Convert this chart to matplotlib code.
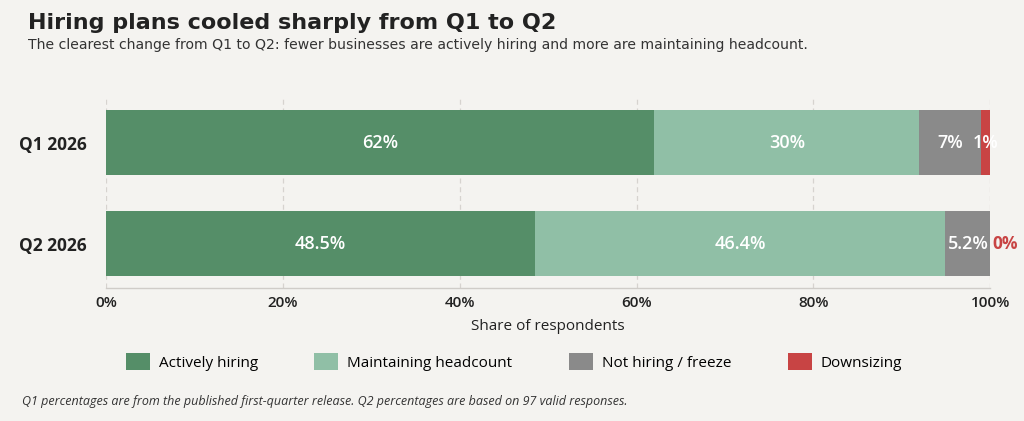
import matplotlib
matplotlib.use("Agg")
import matplotlib.pyplot as plt
from matplotlib.patches import Patch

# data
periods = ["Q1 2026", "Q2 2026"]
categories = ["Actively hiring", "Maintaining headcount", "Not hiring / freeze", "Downsizing"]
q1_values = [62, 30, 7, 1]
q2_values = [48.5, 46.4, 5.2, 0]
q1_labels = ["62%", "30%", "7%", "1%"]
q2_labels = ["48.5%", "46.4%", "5.2%", "0%"]
xticks = [0, 20, 40, 60, 80, 100]

colors = ["#558e68", "#90bfa6", "#8a8a8a", "#c84444"]
bg = "#f4f3f0"
ui_font = ["Open Sans", "Noto Sans", "DejaVu Sans"]

fig = plt.figure(figsize=(10.24, 4.21), dpi=100, facecolor=bg)
ax = fig.add_axes([0.1035, 0.316, 0.8635, 0.451])
ax.set_facecolor(bg)

values = [q1_values, q2_values]
labels = [q1_labels, q2_labels]
for row, (vals, labs) in enumerate(zip(values, labels)):
    left = 0
    for i, (v, lab) in enumerate(zip(vals, labs)):
        if v > 0:
            ax.barh(row, v, left=left, height=0.64, color=colors[i],
                    edgecolor="none", zorder=3)
            ax.text(left + v / 2, row, lab, ha="center", va="center",
                    color="white", fontsize=13, fontweight="semibold",
                    family=ui_font, zorder=4)
        else:
            # zero segment: put the label just past the end of the bar
            ax.text(left + 0.2, row, lab, ha="left", va="center",
                    color=colors[i], fontsize=12.5, fontweight="bold",
                    family=ui_font, zorder=4, clip_on=False)
        left += v

ax.set_xlim(0, 100)
ax.set_ylim(1.44, -0.44)
ax.set_yticks([0, 1])
ax.set_yticklabels(periods, fontsize=12.5, fontweight="bold", family=ui_font, color="#222222")
ax.set_xticks(xticks)
ax.set_xticklabels([f"{t}%" for t in xticks], fontsize=11, fontweight="semibold",
                   family=ui_font, color="#222222")
ax.tick_params(axis="both", length=0, pad=6)
ax.tick_params(axis="y", pad=14)
ax.grid(axis="x", color="#d6d3cf", linestyle=(0, (4, 3)), linewidth=0.9, zorder=0)
for s in ["top", "right", "left"]:
    ax.spines[s].set_visible(False)
ax.spines["bottom"].set_color("#cfccc8")
ax.spines["bottom"].set_linewidth(1.0)
ax.set_xlabel("Share of respondents", fontsize=11, family=ui_font, color="#222222", labelpad=6)

fig.text(0.027, 0.945, "Hiring plans cooled sharply from Q1 to Q2", fontsize=16,
         fontweight="bold", color="#222222", va="center", family="DejaVu Sans")
fig.text(0.027, 0.893, "The clearest change from Q1 to Q2: fewer businesses are actively hiring "
         "and more are maintaining headcount.", fontsize=10.1, color="#333333",
         va="center", family="DejaVu Sans")

handles = [Patch(facecolor=c, edgecolor="none", label=n) for c, n in zip(colors, categories)]
fig.legend(handles=handles, loc="center", bbox_to_anchor=(0.502, 0.141), ncol=4,
           frameon=False, prop={"family": ui_font, "size": 11}, handlelength=1.55,
           handleheight=1.4, handletextpad=0.6, columnspacing=3.7)

fig.text(0.021, 0.046, "Q1 percentages are from the published first-quarter release. "
         "Q2 percentages are based on 97 valid responses.", fontsize=9,
         style="italic", color="#333333", va="center", family=ui_font)

fig.savefig("out.png", dpi=100, facecolor=bg)
